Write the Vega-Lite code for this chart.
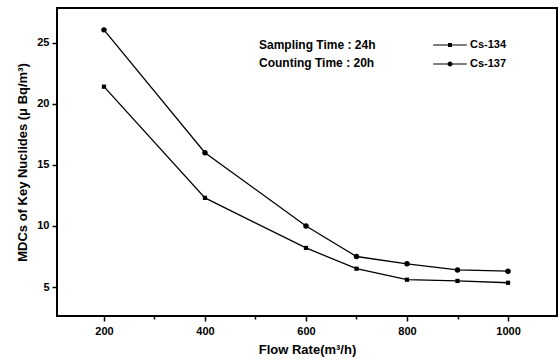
{
  "$schema": "https://vega.github.io/schema/vega-lite/v6.json",
  "width": 500,
  "height": 308,
  "autosize": {"type": "none"},
  "padding": {"left": 57, "top": 8, "right": 3, "bottom": 47},
  "background": "white",
  "config": {
    "view": {"stroke": "black", "strokeWidth": 2},
    "font": "Liberation Sans",
    "axis": {
      "labelFont": "Liberation Sans",
      "labelFontSize": 11,
      "labelFontWeight": "bold",
      "labelColor": "black",
      "tickColor": "black",
      "tickWidth": 1.5,
      "tickSize": 5,
      "domain": false,
      "grid": false,
      "titleFont": "Liberation Sans",
      "titleFontSize": 13,
      "titleFontWeight": "bold",
      "titleColor": "black"
    },
    "legend": {
      "labelFont": "Liberation Sans",
      "labelFontSize": 11,
      "labelFontWeight": "bold",
      "labelColor": "black"
    }
  },
  "datasets": {
    "mdc": [
      {"flow": 200, "mdc": 21.4, "nuclide": "Cs-134"},
      {"flow": 400, "mdc": 12.3, "nuclide": "Cs-134"},
      {"flow": 600, "mdc": 8.2, "nuclide": "Cs-134"},
      {"flow": 700, "mdc": 6.5, "nuclide": "Cs-134"},
      {"flow": 800, "mdc": 5.6, "nuclide": "Cs-134"},
      {"flow": 900, "mdc": 5.5, "nuclide": "Cs-134"},
      {"flow": 1000, "mdc": 5.35, "nuclide": "Cs-134"},
      {"flow": 200, "mdc": 26.05, "nuclide": "Cs-137"},
      {"flow": 400, "mdc": 16.0, "nuclide": "Cs-137"},
      {"flow": 600, "mdc": 10.0, "nuclide": "Cs-137"},
      {"flow": 700, "mdc": 7.5, "nuclide": "Cs-137"},
      {"flow": 800, "mdc": 6.9, "nuclide": "Cs-137"},
      {"flow": 900, "mdc": 6.4, "nuclide": "Cs-137"},
      {"flow": 1000, "mdc": 6.3, "nuclide": "Cs-137"}
    ],
    "notes": [
      {"x": 507, "y": 24.81, "text": "Sampling Time : 24h"},
      {"x": 507, "y": 23.34, "text": "Counting Time  : 20h"}
    ]
  },
  "layer": [
    {
      "data": {"name": "mdc"},
      "mark": {"type": "line", "color": "black", "strokeWidth": 1.3},
      "encoding": {
        "x": {
          "field": "flow", "type": "quantitative",
          "scale": {"domain": [107, 1097], "nice": false, "zero": false},
          "axis": {"orient": "bottom", "values": [200, 400, 600, 800, 1000], "format": "d", "title": "Flow Rate(m³/h)", "titlePadding": 7, "labelPadding": 4}
        },
        "y": {
          "field": "mdc", "type": "quantitative",
          "scale": {"domain": [2.63, 27.84], "nice": false, "zero": false},
          "axis": {"values": [5, 10, 15, 20, 25], "title": "MDCs of Key Nuclides (μ Bq/m³)", "titlePadding": 7, "labelPadding": 3}
        },
        "detail": {"field": "nuclide"}
      }
    },
    {
      "data": {"name": "mdc"},
      "mark": {"type": "point", "filled": true, "color": "black", "opacity": 1},
      "encoding": {
        "x": {"field": "flow", "type": "quantitative", "axis": null},
        "y": {"field": "mdc", "type": "quantitative"},
        "shape": {"field": "nuclide", "type": "nominal", "scale": {"domain": ["Cs-134", "Cs-137"], "range": ["square", "circle"]}, "legend": null},
        "size": {"field": "nuclide", "type": "nominal", "scale": {"domain": ["Cs-134", "Cs-137"], "range": [18, 30]}, "legend": null}
      }
    },
    {
      "data": {"name": "mdc"},
      "mark": {"type": "point", "filled": true, "color": "black", "opacity": 0, "size": 256},
      "encoding": {
        "x": {"field": "flow", "type": "quantitative", "axis": {"orient": "bottom", "values": [300, 500, 700, 900], "labels": false, "tickSize": 3, "title": null}},
        "y": {"field": "mdc", "type": "quantitative"},
        "shape": {
          "field": "nuclide", "type": "nominal",
          "scale": {"domain": ["Cs-134", "Cs-137"], "range": [
            "M-2.1,-0.07H2.1V0.07H-2.1Z M-0.25,-0.25H0.25V0.25H-0.25Z",
            "M-2.1,-0.07H2.1V0.07H-2.1Z M-0.31,0A0.31,0.31 0 1,1 0.31,0A0.31,0.31 0 1,1 -0.31,0Z"
          ]},
          "legend": {
            "title": null, "orient": "none", "legendX": 385, "legendY": 29,
            "symbolOpacity": 1, "symbolFillColor": "black", "symbolStrokeColor": "black", "symbolStrokeWidth": 0,
            "symbolSize": 256, "labelOffset": 12, "rowPadding": 6, "padding": 0
          }
        }
      }
    },
    {
      "data": {"name": "notes"},
      "mark": {"type": "text", "align": "left", "baseline": "middle", "fontSize": 12, "fontWeight": "bold", "color": "black", "font": "Liberation Sans"},
      "encoding": {
        "x": {"field": "x", "type": "quantitative", "axis": null},
        "y": {"field": "y", "type": "quantitative"},
        "text": {"field": "text"}
      }
    }
  ],
  "resolve": {"scale": {"shape": "independent", "size": "independent"}, "axis": {"x": "independent"}}
}
